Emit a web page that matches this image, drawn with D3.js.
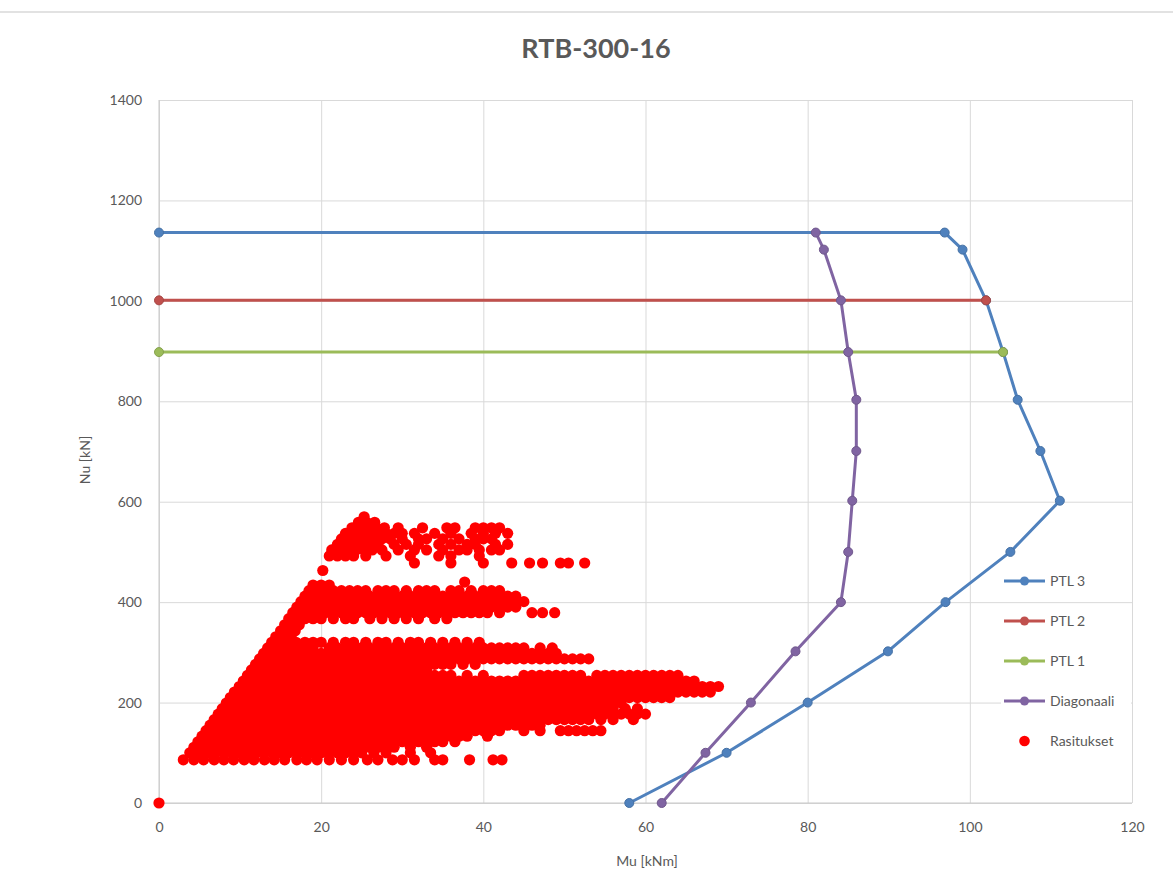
<!DOCTYPE html>
<html lang="fi">
<head>
  <meta charset="UTF-8">
  <script src="https://d3js.org/d3.v7.min.js"></script>
  <title>RTB-300-16</title>
  <style>
    body { margin: 0; background: #ffffff; }
    text { font-family: 'Lato', 'Open Sans', sans-serif; fill: #595959; }
    .title { font-size: 27px; font-weight: 700; }
    .tick text { font-size: 14px; fill: #595959; }
    .axisTitle { font-size: 14px; }
    .legendText { font-size: 14px; }
  </style>
</head>
<body>
<div id="chart"></div>
<script>

  //Axis ticks
  let muTicks = [0, 20, 40, 60, 80, 100, 120]
  let nuTicks = [0, 200, 400, 600, 800, 1000, 1200, 1400]

  //Capacity curves (Mu [kNm], Nu [kN])
  let ptl3Mu = [0, 96.9, 99.1, 102, 104.1, 105.9, 108.7, 111.1, 105, 97, 89.9, 80, 70, 58]
  let ptl3Nu = [1136, 1136, 1102, 1001, 898, 803, 701, 602, 500, 400, 302, 200, 100, 0]
  let ptl2Mu = [0, 102]
  let ptl2Nu = [1001, 1001]
  let ptl1Mu = [0, 104.1]
  let ptl1Nu = [898, 898]
  let diagMu = [81, 82, 84.1, 85, 86, 86, 85.5, 85, 84.1, 78.5, 73, 67.4, 62]
  let diagNu = [1136, 1102, 1001, 898, 803, 701, 602, 500, 400, 302, 200, 100, 0]

  //Load cases (Rasitukset): one Nu level per row, with the Mu values found on it
  let rasitusN = [570, 559, 548, 537, 526, 515, 504, 492, 478, 463, 440, 434, 423, 412, 401, 390, 379, 367, 355, 343, 331,
    320, 309, 298, 287, 276, 265, 254, 243, 232, 221, 210, 199, 188, 177, 166, 155, 144, 133, 122, 111, 100, 86, 0]
  let rasitusMu = [
    [25.3],
    [24.6, 25.6, 26.6],
    [23.8, 24.8, 25.8, 26.8, 27.8, 29.5, 32.5, 35.5, 36.5, 39, 40, 41, 42],
    [23, 24, 25, 26, 27, 28, 29, 30, 31.5, 34, 36, 38.5, 40, 41.5, 43],
    [22.5, 23.5, 24.5, 25.5, 26.5, 27.5, 28.5, 30, 32, 33, 35, 37, 39, 40, 41],
    [22, 23, 24, 25, 26, 27, 29, 30.5, 32, 34.5, 36, 38, 39, 41.5, 43],
    [21.3, 22.3, 23.3, 24.3, 25.3, 26.3, 27.5, 29.5, 31.5, 33, 35, 37, 38, 39.5, 41, 42],
    [21, 22, 23, 24, 25.5, 28, 31, 34.5, 36, 39.5],
    [31.5, 36, 40, 43.5, 45.7, 47.3, 49.5, 50.5, 52.5],
    [20.2],
    [37.7],
    [19, 20, 21],
    [18.5, 19.5, 20.5, 21.5, 22.5, 23.5, 24.5, 25.5, 27, 28, 29, 30.5, 32, 33, 34, 36, 37, 38.5, 40, 41, 42],
    [18, 19, 20, 21, 22, 23, 24, 25, 26, 27, 28, 29, 30, 31, 32, 33, 34, 35, 36, 37, 38, 39, 40, 41, 42, 43, 44],
    [17.5, 18, 19, 20, 21, 22, 23, 24, 25, 26, 27, 28, 29, 30, 31, 32, 33, 34, 35, 36, 37, 38, 39, 40, 41, 42, 43, 44, 45],
    [17, 18, 19, 20, 21, 22, 23, 24, 25, 26, 27, 28, 29, 30, 31, 32, 33, 34, 35, 36, 37, 38, 39, 40, 41, 42, 43, 44],
    [16.5, 17.5, 18.5, 19.5, 20.5, 21.5, 22.5, 23.5, 24.5, 25.5, 26.5, 27.5, 28.5, 29.5, 30.5, 31.5, 32.5, 33.5, 34.5, 35.5, 36.5, 37.5, 38.5, 39.5, 40.5, 42, 46, 47.3, 48.8],
    [16, 17, 18, 19, 20, 21.5, 23, 24, 26, 27.5, 29, 30.5, 32, 34, 35.5],
    [15.5, 16.5, 17.3],
    [15, 16, 16.8],
    [14.4, 15.4, 16.3],
    [13.9, 14.9, 15.9, 16.9, 18, 19, 20, 21.5, 23, 24, 25.5, 27, 28, 29.5, 31, 32, 33.5, 35, 36.5, 38, 39.5],
    [13.4, 14, 15, 16, 17, 18, 19, 21, 22, 23, 24, 25, 26, 27, 28, 29, 30, 31, 32, 33, 34, 35, 36, 37, 38, 39, 40, 41, 42, 43, 44, 45, 47, 48.5],
    [12.9, 14, 15, 16, 17, 18, 19, 20, 21, 22, 23, 24, 25, 26, 27, 28, 29, 30, 31, 32, 33, 34, 35, 36, 37, 38, 39, 40, 41, 42, 43, 44, 45, 46, 47, 48, 49],
    [12.4, 13, 14, 15, 16, 17, 18, 19, 20, 21, 22, 23, 24, 25, 26, 27, 28, 29, 30, 31, 32, 33, 34, 35, 36, 37, 38, 39, 40, 41, 42, 43, 44, 45, 46, 47, 48, 49, 50, 51, 52, 53],
    [11.9, 13, 14, 15, 16, 17, 18, 19, 20, 21, 22, 23, 24, 25, 26, 27, 28, 29, 30, 31, 32, 33, 34, 35, 36, 37.5, 39],
    [11.4, 12, 13, 14, 15, 16, 17, 18, 19, 20, 21, 22, 23, 24, 25, 26, 27, 28, 29, 30, 31, 32, 33],
    [10.9, 12, 13, 14, 15, 16, 17, 18, 19, 20, 21, 22, 23, 24, 25, 26, 27, 28, 29, 30, 31, 32, 33, 34, 35, 36, 38, 40,
      45, 46, 47, 48, 49, 50, 51, 52, 54, 55, 56, 57, 58, 59, 60, 61, 62, 63, 64],
    [10.4, 11, 12, 13, 14, 15, 16, 17, 18, 19, 20, 21, 22, 23, 24, 25, 26, 27, 28, 29, 30, 31, 32, 33, 34, 35, 36, 37, 38,
      39, 40, 41, 42, 43, 44, 45, 46, 47, 48, 49, 50, 51, 52, 53, 54, 55, 56, 57, 58, 59, 60, 61, 62, 63, 64, 65, 66],
    [9.9, 11, 12, 13, 14, 15, 16, 17, 18, 19, 20, 21, 22, 23, 24, 25, 26, 27, 28, 29, 30, 31, 32, 33, 34, 35, 36, 37, 38,
      39, 40, 41, 42, 43, 44, 45, 46, 47, 48, 49, 50, 51, 52, 53, 54, 55, 56, 57, 58, 59, 60, 61, 62, 63, 64, 65, 66, 67, 68, 69],
    [9.3, 10, 11, 12, 13, 14, 15, 16, 17, 18, 19, 20, 21, 22, 23, 24, 25, 26, 27, 28, 29, 30, 31, 32, 33, 34, 35, 36, 37, 38,
      39, 40, 41, 42, 43, 44, 45, 46, 47, 48, 49, 50, 51, 52, 53, 54, 55, 56, 57, 58, 59, 60, 61, 62, 63, 64, 65, 66, 67, 68],
    [8.8, 10, 11, 12, 13, 14, 15, 16, 17, 18, 19, 20, 21, 22, 23, 24, 25, 26, 27, 28, 29, 30, 31, 32, 33, 34, 35, 36, 37, 38,
      39, 40, 41, 42, 43, 44, 45, 46, 47, 48, 49, 50, 51, 52, 53, 54, 55, 56, 57, 58, 59, 60, 61, 62, 63],
    [8.3, 9, 10, 11, 12, 13, 14, 15, 16, 17, 18, 19, 20, 21, 22, 23, 24, 25, 26, 27, 28, 29, 30, 31, 32, 33, 34, 35, 36, 37, 38,
      39, 40, 41, 42, 43, 44, 45, 46, 47, 48, 49, 50, 51, 52, 53, 54, 55, 56, 57],
    [7.8, 9, 10, 11, 12, 13, 14, 15, 16, 17, 18, 19, 20, 21, 22, 23, 24, 25, 26, 27, 28, 29, 30, 31, 32, 33, 34, 35, 36, 37, 38,
      39, 40, 41, 42, 43, 44, 45, 46, 47, 48, 49, 50, 51, 52, 53, 54, 55, 56, 57.5, 59],
    [7.3, 8, 9, 10, 11, 12, 13, 14, 15, 16, 17, 18, 19, 20, 21, 22, 23, 24, 25, 26, 27, 28, 29, 30, 31, 32, 33, 34, 35, 36, 37, 38,
      39, 40, 41, 42, 43, 44, 45, 46, 47, 48, 49, 50, 51, 52, 53, 54, 55, 56, 57, 58, 59, 60],
    [6.8, 8, 9, 10, 11, 12, 13, 14, 15, 16, 17, 18, 19, 20, 21, 22, 23, 24, 25, 26, 27, 28, 29, 30, 31, 32, 33, 34, 35, 36, 37, 38,
      39, 40, 41, 42, 43, 44, 45, 46, 47, 48, 49, 50, 51, 52, 53, 54.5, 56, 58.5],
    [6.3, 7, 8, 9, 10, 11, 12, 13, 14, 15, 16, 17, 18, 19, 20, 21, 22, 23, 24, 25, 26, 27, 28, 29, 30, 31, 32, 33, 34, 35, 36, 37, 38,
      39, 40, 41, 42, 43, 44, 45, 46, 47],
    [5.8, 7, 8, 9, 10, 11, 12, 13, 14, 15, 16, 17, 18, 19, 20, 21, 22, 23, 24, 25, 26, 27, 28, 29, 30, 31, 32, 33, 34, 35, 36, 37, 38,
      39, 40, 41, 42, 45, 47, 49.5, 50.5, 51.5, 52.5, 53.5, 54.5],
    [5.3, 6, 7, 8, 9, 10, 11, 12, 13, 14, 15, 16, 17, 18, 19, 20, 21, 22, 23, 24, 25, 26, 27, 28, 29, 30, 31, 32, 33, 34, 35, 36, 37, 38, 40.5],
    [4.8, 6, 7, 8, 9, 10, 11, 12, 13, 14, 15, 16, 17, 18, 19, 20, 21, 22, 23, 24, 25, 26, 27, 28, 29, 30, 31, 32, 33, 34, 35, 36.5],
    [4.3, 5, 6, 7, 8, 9, 10, 11, 12, 13, 14, 15, 16, 17, 18, 19, 20, 21, 22, 23, 24, 25, 26, 27, 28, 29, 31, 33],
    [3.8, 5, 6, 7, 8, 9, 10, 11, 12, 13, 14, 15, 16, 17, 18, 19, 20, 21, 22, 23, 24, 25, 26.5, 28, 31, 33.5],
    [3, 4.3, 5.5, 6.8, 8, 9.2, 10.5, 11.7, 13, 14.2, 15.5, 17, 18.2, 19.5, 21, 22.5, 24, 25.7, 27, 28.8, 30, 31.5, 34, 35, 38.3, 41.2, 42.3],
    [0]
  ]

  let legendNames = ['PTL 3', 'PTL 2', 'PTL 1', 'Diagonaali', 'Rasitukset']
  let legendColors = ['#4f81bd', '#c0504d', '#9bbb59', '#8064a2', '#ff0000']

  // set the dimensions and margins of the graph
  let margin = {top: 100, right: 40, bottom: 93, left: 159},
          width = 1173,
          height = 896,
          chartWidth = width - margin.left - margin.right - 1,
          chartHeight = height - margin.top - margin.bottom;

  let svg = d3.select("#chart")
          .append("svg")
          .attr("width", width)
          .attr("height", height)

  //thin grey frame line at the top of the picture
  svg.append("line")
          .attr("x1", 0).attr("x2", width)
          .attr("y1", 12).attr("y2", 12)
          .style("stroke", "#d9d9d9")
          .style("stroke-width", 1.5)

  svg.append("text")
          .attr("class", "title")
          .attr("x", 596)
          .attr("y", 58)
          .attr("text-anchor", "middle")
          .text("RTB-300-16")

  let g = svg.append("g")
          .attr("transform", "translate(" + margin.left + "," + margin.top + ")")

  //Put x and y axis
  let muScale = d3.scaleLinear().domain([0, 120]).range([0, chartWidth])
  let nuScale = d3.scaleLinear().domain([0, 1400]).range([chartHeight, 0])

  //grid
  g.append("g")
          .call(d3.axisLeft(nuScale).tickValues(nuTicks).tickSize(-chartWidth).tickFormat(""))
          .call(a => a.select(".domain").remove())
          .selectAll("line").style("stroke", "#d9d9d9")
  g.append("g")
          .attr("transform", "translate(0," + chartHeight + ")")
          .call(d3.axisBottom(muScale).tickValues(muTicks).tickSize(-chartHeight).tickFormat(""))
          .call(a => a.select(".domain").remove())
          .selectAll("line").style("stroke", "#d9d9d9")

  //axis lines
  g.append("line").attr("x1", 0).attr("x2", 0).attr("y1", 0).attr("y2", chartHeight)
          .style("stroke", "#c8c8c8")
  g.append("line").attr("x1", 0).attr("x2", chartWidth).attr("y1", chartHeight).attr("y2", chartHeight)
          .style("stroke", "#c8c8c8")

  //tick labels
  g.append("g")
          .call(d3.axisLeft(nuScale).tickValues(nuTicks).tickSize(0).tickPadding(17).tickFormat(d3.format("d")))
          .call(a => a.select(".domain").remove())
  g.append("g")
          .attr("transform", "translate(0," + chartHeight + ")")
          .call(d3.axisBottom(muScale).tickValues(muTicks).tickSize(0).tickPadding(19).tickFormat(d3.format("d")))
          .call(a => a.select(".domain").remove())

  svg.append("text")
          .attr("class", "axisTitle")
          .attr("x", 647)
          .attr("y", 866)
          .attr("text-anchor", "middle")
          .text("Mu [kNm]")

  svg.append("text")
          .attr("class", "axisTitle")
          .attr("transform", "translate(90,460) rotate(-90)")
          .attr("text-anchor", "middle")
          .text("Nu [kN]")

  //Line function
  let line = d3.line()
          .x(d => muScale(d.mu))
          .y(d => nuScale(d.nu))

  let series = [
    {name: 'PTL 3', mu: ptl3Mu, nu: ptl3Nu},
    {name: 'PTL 2', mu: ptl2Mu, nu: ptl2Nu},
    {name: 'PTL 1', mu: ptl1Mu, nu: ptl1Nu},
    {name: 'Diagonaali', mu: diagMu, nu: diagNu}
  ]

  series.forEach((s, i) => {
    let pts = s.mu.map((m, j) => ({mu: m, nu: s.nu[j]}))
    let c = legendColors[i]
    g.append("path")
            .attr("d", line(pts))
            .style("fill", "none")
            .style("stroke", c)
            .style("stroke-width", 3)
            .style("stroke-linejoin", "round")
    g.append("g")
            .selectAll("circle")
            .data(pts)
            .join("circle")
            .attr("cx", d => muScale(d.mu))
            .attr("cy", d => nuScale(d.nu))
            .attr("r", 4.5)
            .style("fill", c)
            .style("stroke", d3.color(c).darker(0.4))
            .style("stroke-width", 1)
  })

  //Rasitukset scatter
  let loads = []
  rasitusN.forEach((n, i) => {
    rasitusMu[i].forEach(m => loads.push({mu: m, nu: n}))
  })

  g.append("g")
          .selectAll("circle")
          .data(loads)
          .join("circle")
          .attr("cx", d => muScale(d.mu))
          .attr("cy", d => nuScale(d.nu))
          .attr("r", 5.6)
          .style("fill", "#ff0000")

  //Legend
  g.append("clipPath").attr("id", "plotClip")
          .append("rect").attr("x", 0).attr("y", 0).attr("width", chartWidth - 1).attr("height", chartHeight)

  let legend = g.append("g").attr("clip-path", "url(#plotClip)")
  legend.append("rect")
          .attr("x", 842).attr("y", 506)
          .attr("width", chartWidth - 843).attr("height", 152)
          .style("fill", "#ffffff")

  let legendItems = legend.selectAll(".legendItem")
          .data(legendNames)
          .join("g")
          .attr("class", "legendItem")
          .attr("transform", (d, i) => "translate(845," + (481 + i * 40) + ")")

  legendItems.filter((d, i) => i < 4)
          .append("line")
          .attr("x1", 0).attr("x2", 41)
          .style("stroke", (d, i) => legendColors[i])
          .style("stroke-width", 3)
  legendItems.append("circle")
          .attr("cx", 20.5)
          .attr("r", (d, i) => i < 4 ? 4.5 : 5.3)
          .style("fill", (d, i) => legendColors[i])
  legendItems.append("text")
          .attr("class", "legendText")
          .attr("x", 46)
          .attr("dy", "0.35em")
          .text(d => d)

</script>
</body>
</html>
